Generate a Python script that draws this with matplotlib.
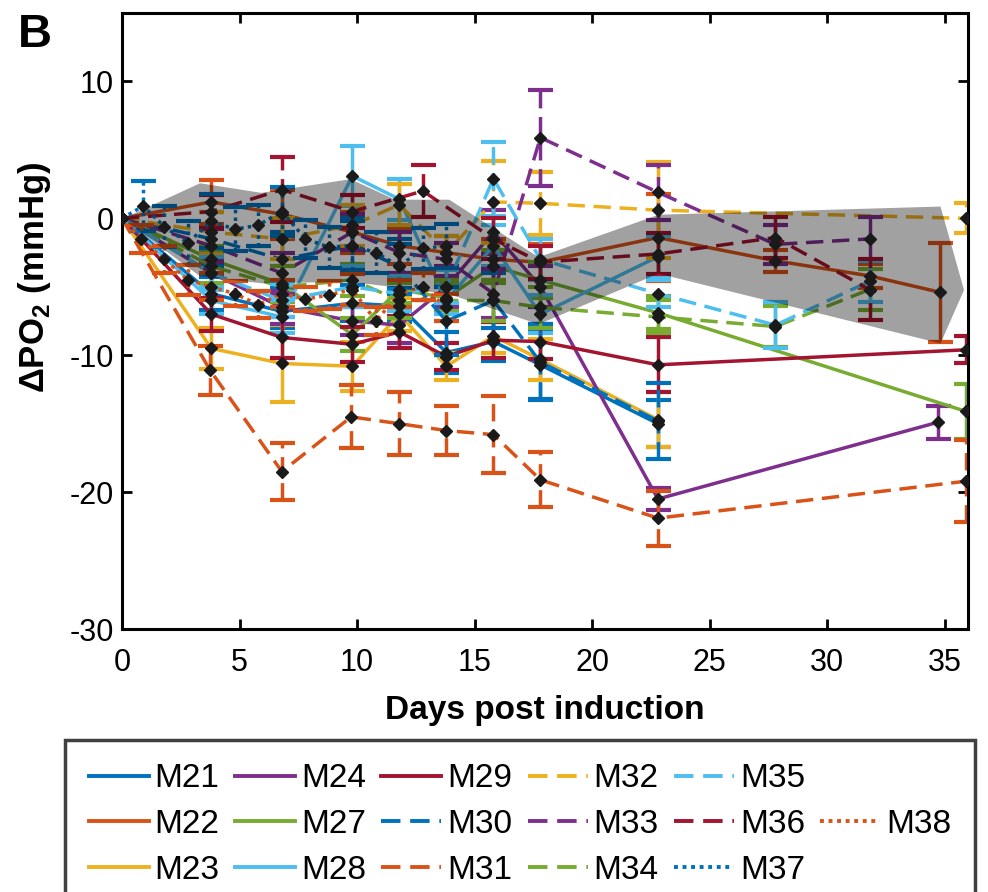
import numpy as np
import matplotlib.pyplot as plt
from matplotlib.lines import Line2D

plt.rcParams['font.family'] = ['Liberation Sans', 'DejaVu Sans']
plt.rcParams['mathtext.fontset'] = 'custom'
plt.rcParams['mathtext.rm'] = 'Liberation Sans'
plt.rcParams['mathtext.bf'] = 'Liberation Sans:bold'
plt.rcParams['axes.unicode_minus'] = False

# Group mean +/- SEM band
band_days = [0, 3.3, 5.9, 9.7, 11.6, 13.9, 17.7, 22.8, 34.8, 35.8]
band_upper = [0, 2.6, 1.9, 2.9, 1.4, 1.4, -2.8, 0.3, 0.9, -5.2]
band_lower = [0, -4.2, -4.7, -4.6, -5.0, -5.5, -7.7, -4.0, -9.1, -5.2]

# Measurement days
days_main = [0, 3.8, 6.8, 9.8, 11.8, 13.8, 15.8, 17.8, 22.8]

# Per-mouse dPO2 (mmHg) and SEM
M21_days = days_main
M21_val = [0, -5.5, -6.8, -6.2, -6.4, -9.8, -9.0, -10.7, -15.0]
M21_err = [0, 1.2, 1.2, 1.3, 1.2, 1.5, 1.4, 2.5, 1.7]

M22_days = days_main + [27.8, 31.8, 34.8]
M22_val = [0, 1.2, 0.3, -1.0, -2.0, -2.5, -3.0, -3.2, -1.4, -3.1, -4.2, -5.4]
M22_err = [0, 1.6, 1.8, 1.5, 1.3, 1.2, 1.5, 1.3, 3.2, 0.8, 0.9, 3.6]

M23_days = days_main
M23_val = [0, -9.5, -10.6, -10.8, -7.0, -10.8, -8.6, -10.3, -14.7]
M23_err = [0, 1.5, 2.8, 1.8, 1.2, 1.0, 1.2, 1.5, 2.0]

M24_days = days_main + [34.7]
M24_val = [0, -4.0, -6.5, -7.5, -7.8, -5.0, -1.0, -5.0, -20.5, -14.9]
M24_err = [0, 1.0, 1.2, 1.0, 1.3, 1.5, 1.6, 1.5, 0.8, 1.2]

M27_days = days_main + [35.9]
M27_val = [0, -3.0, -4.8, -8.5, -5.2, -5.8, -3.5, -4.5, -6.9, -14.1]
M27_err = [0, 1.0, 1.3, 1.2, 1.0, 1.0, 1.2, 1.3, 1.2, 2.0]

M28_days = days_main
M28_val = [0, -6.0, -7.2, 3.1, 1.4, -6.0, -2.0, -7.0, -2.8]
M28_err = [0, 1.0, 1.2, 2.2, 1.5, 1.0, 1.5, 1.4, 1.5]

M29_days = days_main + [35.9]
M29_val = [0, -7.0, -8.7, -9.2, -8.3, -10.1, -8.9, -9.0, -10.7, -9.6]
M29_err = [0, 1.2, 1.5, 1.3, 1.2, 1.0, 1.3, 1.3, 2.0, 1.0]

M30_days = days_main
M30_val = [0, -1.5, -3.0, -2.0, -3.5, -7.5, -6.0, -10.5, -14.8]
M30_err = [0, 2.0, 2.0, 2.0, 2.0, 2.5, 2.0, 2.8, 2.8]

M31_days = [0, 3.75, 6.8, 9.75, 11.8, 13.8, 15.8, 17.8, 22.8, 35.9]
M31_val = [0, -11.1, -18.5, -14.5, -15.0, -15.5, -15.8, -19.1, -21.9, -19.2]
M31_err = [0, 1.8, 2.1, 2.3, 2.3, 1.8, 2.8, 2.0, 2.0, 3.0]

M32_days = days_main + [35.9]
M32_val = [0, -1.0, -1.5, -0.5, 1.0, -2.5, 1.2, 1.1, 0.6, 0.0]
M32_err = [0, 1.5, 1.5, 1.5, 1.5, 1.2, 3.0, 2.3, 3.5, 1.1]

M33_days = days_main + [27.8, 31.8]
M33_val = [0, -2.0, -4.0, -1.0, -2.5, -3.0, -5.5, 5.9, 1.9, -1.9, -1.5]
M33_err = [0, 1.2, 1.5, 1.3, 1.5, 1.2, 1.8, 3.5, 2.0, 1.4, 1.6]

M34_days = days_main + [27.8, 31.8]
M34_val = [0, -3.5, -5.0, -4.5, -6.0, -6.0, -6.0, -6.5, -7.2, -7.9, -5.2]
M34_err = [0, 1.2, 1.5, 1.2, 1.3, 1.5, 1.5, 1.5, 1.2, 1.5, 1.5]

M35_days = days_main + [27.8, 31.8]
M35_val = [0, -4.0, -6.0, -5.0, -5.5, -5.0, 2.9, -3.0, -5.5, -7.8, -4.6]
M35_err = [0, 1.2, 1.2, 1.5, 1.3, 1.2, 2.7, 1.5, 1.0, 1.7, 1.5]

M36_days = [0, 3.8, 6.8, 9.8, 12.8, 15.8, 17.8, 22.8, 27.8, 31.8]
M36_val = [0, 0.5, 2.1, 0.5, 2.0, -1.5, -3.2, -2.6, -1.4, -5.2]
M36_err = [0, 1.2, 2.4, 1.2, 1.9, 1.5, 1.2, 1.5, 1.5, 2.2]

M37_days = [0, 0.9, 1.8, 2.8, 3.8, 4.8, 5.8, 6.8, 7.8, 8.8, 9.8, 10.8, 11.8, 12.8, 13.8]
M37_val = [0, 0.9, -0.6, -1.8, -0.2, -0.8, -0.5, 0.5, -1.5, -2.1, -2.0, -2.5, -3.5, -2.2, -2.0]
M37_err = [0, 1.8, 1.5, 1.6, 2.0, 1.6, 1.5, 1.8, 1.4, 1.5, 1.8, 1.5, 1.6, 1.5, 1.6]

M38_days = [0, 0.8, 1.8, 2.8, 3.8, 4.8, 5.8, 6.8, 7.8, 8.8, 9.8, 10.8, 11.8, 12.8, 13.8]
M38_val = [0, -1.5, -3.0, -4.5, -5.0, -5.5, -6.3, -5.5, -5.9, -5.6, -5.2, -7.5, -5.5, -5.0, -6.5]
M38_err = [0, 1.0, 1.0, 1.1, 1.0, 0.9, 1.0, 1.0, 0.9, 1.0, 1.1, 1.0, 1.0, 1.0, 1.0]

# MATLAB default colour order
blue, orange, yellow, purple = '#0072BD', '#D95319', '#EDB120', '#7E2F8E'
green, ltblue, dkred = '#77AC30', '#4DBEEE', '#A2142F'
dash = (0, (5, 2.5))
dot = (0, (1, 1.2))

series = [
    ('M21', M21_days, M21_val, M21_err, blue, '-'),
    ('M22', M22_days, M22_val, M22_err, orange, '-'),
    ('M23', M23_days, M23_val, M23_err, yellow, '-'),
    ('M24', M24_days, M24_val, M24_err, purple, '-'),
    ('M27', M27_days, M27_val, M27_err, green, '-'),
    ('M28', M28_days, M28_val, M28_err, ltblue, '-'),
    ('M29', M29_days, M29_val, M29_err, dkred, '-'),
    ('M30', M30_days, M30_val, M30_err, blue, dash),
    ('M31', M31_days, M31_val, M31_err, orange, dash),
    ('M32', M32_days, M32_val, M32_err, yellow, dash),
    ('M33', M33_days, M33_val, M33_err, purple, dash),
    ('M34', M34_days, M34_val, M34_err, green, dash),
    ('M35', M35_days, M35_val, M35_err, ltblue, dash),
    ('M36', M36_days, M36_val, M36_err, dkred, dash),
    ('M37', M37_days, M37_val, M37_err, blue, dot),
    ('M38', M38_days, M38_val, M38_err, orange, dot),
]

fig = plt.figure(figsize=(9.88, 8.92), dpi=100)
ax = fig.add_axes([0.1235, 0.2948, 0.8565, 0.6906])

handles = {}
for name, d, v, e, c, ls in series:
    d, v, e = np.array(d), np.array(v), np.array(e)
    ax.plot(d, v, color=c, ls=ls, lw=2.5, zorder=2)
    m = e > 0
    eb = ax.errorbar(d[m], v[m], yerr=e[m], fmt='none', ecolor=c, elinewidth=2.5,
                     capsize=9, capthick=3, zorder=2)
    eb[2][0].set_linestyle(ls)
    ax.plot(d, v, 'D', color='#1a1a1a', ms=6.5, zorder=5)
    handles[name] = Line2D([], [], color=c, ls=ls, lw=2.8)

# mean band drawn over the lines
ax.fill_between(band_days, band_lower, band_upper, color='k', alpha=0.37, lw=0, zorder=3)

ax.set_xlim(0, 36)
ax.set_ylim(-30, 15)
ax.set_xticks(range(0, 36, 5))
ax.set_yticks([-30, -20, -10, 0, 10])
ax.tick_params(direction='in', length=7, width=2, labelsize=22, top=True, right=True)
ax.tick_params(axis='x', pad=14)
ax.tick_params(axis='y', pad=6)
for s in ax.spines.values():
    s.set_linewidth(2.2)
ax.set_xlabel('Days post induction', fontsize=24, fontweight='bold', labelpad=12)
ax.set_ylabel(r'ΔPO$_\mathbf{2}$ (mmHg)', fontsize=25, fontweight='bold')
ax.yaxis.set_label_coords(-0.082, 0.571)
fig.text(0.018, 0.985, 'B', fontsize=34, fontweight='bold', va='top', ha='left')

# legend: 3 rows, column-major, M38 alone in the middle of the last column
blank = Line2D([], [], color='none')
order = ['M21', 'M22', 'M23', 'M24', 'M27', 'M28', 'M29', 'M30', 'M31',
         'M32', 'M33', 'M34', 'M35', 'M36', 'M37', None, 'M38', None]
leg_h = [handles[n] if n else blank for n in order]
leg_l = [n if n else '' for n in order]
leg = fig.legend(leg_h, leg_l, ncol=6, loc='upper left', bbox_to_anchor=(0.066, 0.1704),
                 borderaxespad=0, fontsize=24, handlelength=1.8, handletextpad=0.18,
                 columnspacing=0.46, labelspacing=0.44, borderpad=0.7,
                 fancybox=False, framealpha=1)
leg.get_frame().set_edgecolor('0.25')
leg.get_frame().set_linewidth(2.5)

fig.savefig('out.png', dpi=100)
